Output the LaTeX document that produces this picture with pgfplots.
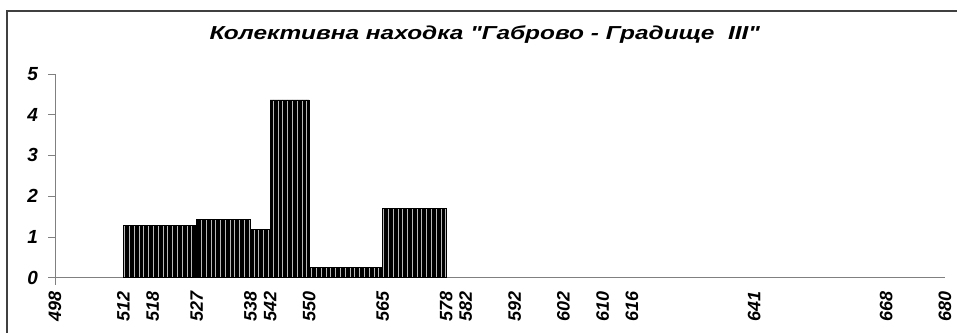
\documentclass[border=0pt]{standalone}
\usepackage{fontspec}
\setmainfont{Liberation Sans}
\newfontfamily\titlefont[FakeStretch=1.3]{Liberation Sans}
\usepackage{pgfplots}
\pgfplotsset{compat=1.18}
\usetikzlibrary{patterns.meta}

\begin{document}
\begin{tikzpicture}
\begin{axis}[
    scale only axis,
    width=445.5pt, height=102pt,
    xmin=498, xmax=680, ymin=0, ymax=5,
    axis lines=left,
    axis line style={draw=gray, -},
    y axis line style={shorten <=-3.5pt},
    tick align=outside,
    major tick length=3.5pt,
    ytick={0,1,2,3,4,5},
    ytick style={gray},
    xtick={498,512,518,527,538,542,550,565,578,582,592,602,610,616,641,668,680},
    xtick style={draw=none},
    /pgf/number format/assume math mode=true,
    /pgf/number format/1000 sep={},
    x tick label style={rotate=90, anchor=east, yshift=0pt,
        font=\bfseries\itshape\fontsize{9}{9}\selectfont},
    y tick label style={xshift=-1.5pt, font=\bfseries\itshape\fontsize{9.5}{9.5}\selectfont},
    title={Колективна находка "Габрово - Градище\ \ III"},
    title style={at={(axis description cs:0.483,1)}, anchor=base, yshift=11pt,
        font=\titlefont\bfseries\itshape\fontsize{9.4}{9.5}\selectfont},
    clip=false,
]
\addplot[ybar interval, fill=black, draw=black, line width=0.4pt,
    postaction={pattern={Lines[angle=90,distance=2.4pt,line width=0.45pt]}, pattern color=gray!55}]
    coordinates {(512,1.29) (518,1.29) (527,1.42) (538,1.19) (542,4.36) (550,0.26) (565,1.70) (578,1.70)};
\coordinate (sw) at (rel axis cs:0,0);
\coordinate (ne) at (rel axis cs:1,1);
\end{axis}
\draw[line width=1pt, black!75]
    ([xshift=-24pt,yshift=-27.5pt]sw) -- ([xshift=-24pt,yshift=31.5pt]sw |- ne)
    -- ([xshift=6pt,yshift=31.5pt]ne);
\path[use as bounding box] ([xshift=-27.5pt,yshift=-27.5pt]sw) rectangle ([xshift=6pt,yshift=37pt]ne);
\end{tikzpicture}
\end{document}
